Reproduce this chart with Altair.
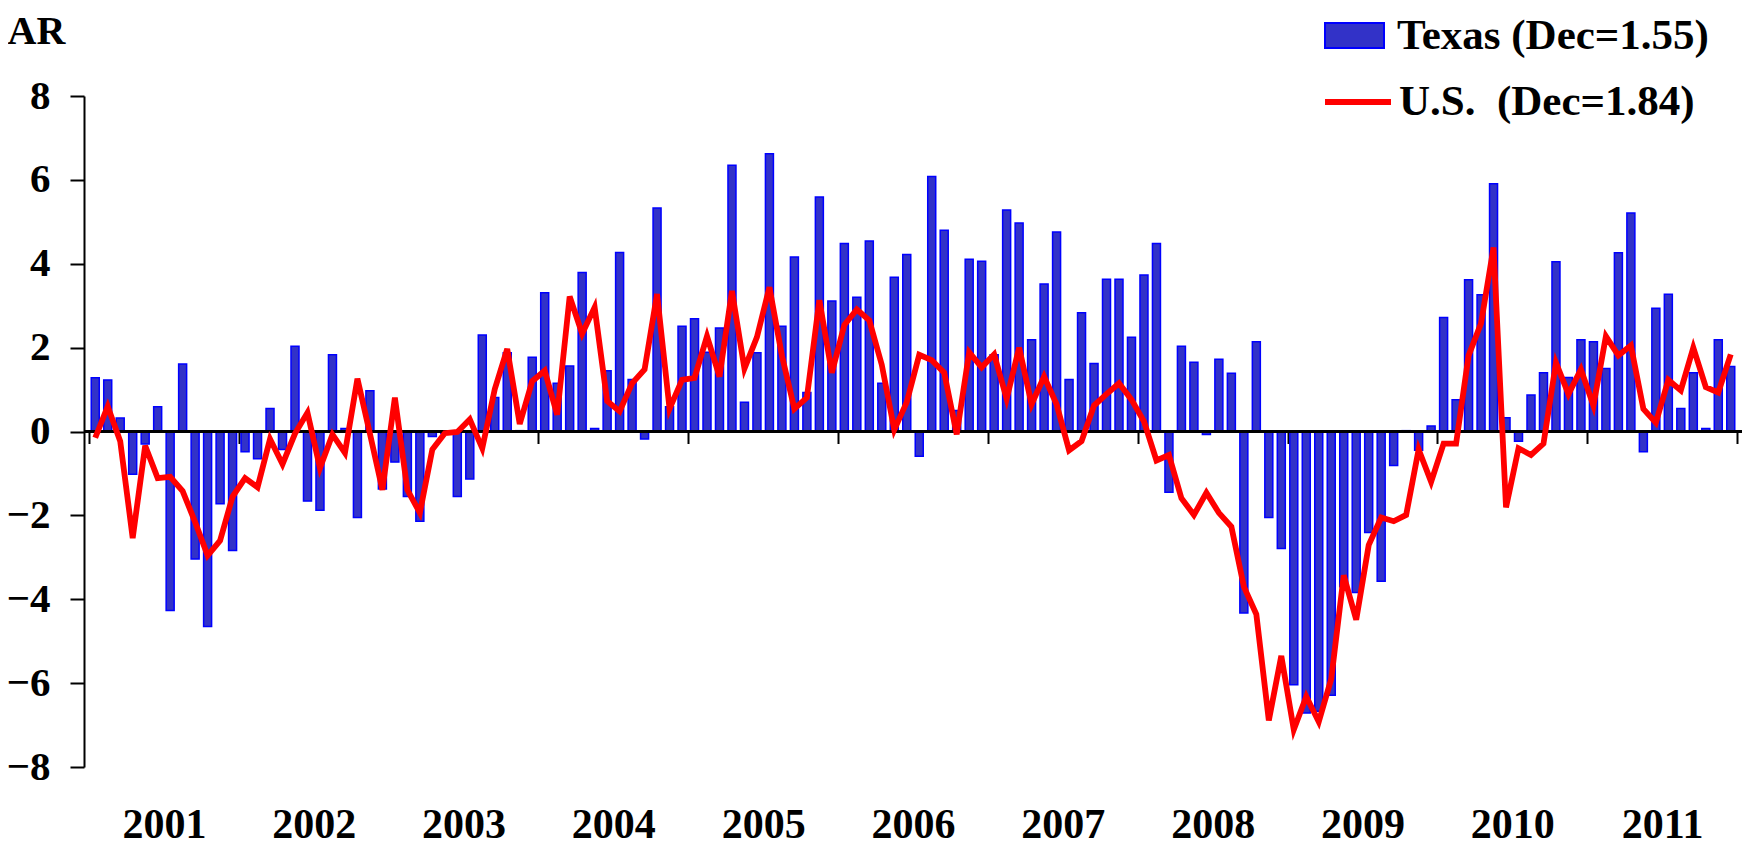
import altair as alt
import pandas as pd

# ---- data (monthly, Jan 2001 .. Dec 2011), % SAAR ----
years = list(range(2001, 2012))

texas = [
    1.28, 1.23, 0.32, -1.02, -0.30, 0.59, -4.27, 1.61, -3.04, -4.65, -1.72, -2.84,   # 2001
    -0.48, -0.65, 0.55, -0.43, 2.03, -1.66, -1.88, 1.83, 0.07, -2.05, 0.97, -1.37,   # 2002
    -0.73, -1.55, -2.14, -0.12, -0.05, -1.55, -1.13, 2.30, 0.81, 1.88, 0.02, 1.77,   # 2003
    3.31, 1.15, 1.56, 3.79, 0.07, 1.45, 4.27, 1.24, -0.18, 5.33, 0.59, 2.51,         # 2004
    2.69, 1.89, 2.47, 6.35, 0.70, 1.88, 6.62, 2.51, 4.16, 0.93, 5.59, 3.11,          # 2005
    4.48, 3.20, 4.54, 1.15, 3.68, 4.22, -0.59, 6.08, 4.80, 0.50, 4.11, 4.06,         # 2006
    1.83, 5.28, 4.97, 2.19, 3.52, 4.76, 1.24, 2.83, 1.62, 3.63, 3.63, 2.25,          # 2007
    3.73, 4.48, -1.45, 2.03, 1.65, -0.07, 1.72, 1.39, -4.33, 2.14, -2.05, -2.79,     # 2008
    -6.04, -6.71, -6.67, -6.29, -3.70, -3.84, -2.41, -3.57, -0.81, 0.02, -0.45, 0.13, # 2009
    2.72, 0.76, 3.62, 3.26, 5.91, 0.33, -0.23, 0.87, 1.40, 4.05, 1.29, 2.19,         # 2010
    2.14, 1.50, 4.26, 5.21, -0.48, 2.94, 3.27, 0.55, 1.40, 0.07, 2.19, 1.55,         # 2011
]

us = [
    -0.15, 0.60, -0.23, -2.54, -0.34, -1.11, -1.08, -1.42, -2.16, -2.96, -2.60, -1.55,  # 2001
    -1.11, -1.33, -0.18, -0.78, -0.05, 0.45, -0.87, -0.07, -0.51, 1.26, -0.05, -1.39,   # 2002
    0.81, -1.39, -1.94, -0.43, -0.04, -0.01, 0.29, -0.40, 1.01, 1.97, 0.18, 1.20,       # 2003
    1.45, 0.40, 3.22, 2.33, 2.96, 0.73, 0.48, 1.15, 1.48, 3.28, 0.54, 1.23,             # 2004
    1.28, 2.27, 1.31, 3.35, 1.50, 2.25, 3.44, 1.81, 0.54, 0.81, 3.13, 1.40,             # 2005
    2.54, 2.91, 2.65, 1.59, 0.04, 0.70, 1.83, 1.70, 1.40, -0.07, 1.89, 1.53,            # 2006
    1.84, 0.78, 2.00, 0.65, 1.31, 0.65, -0.45, -0.23, 0.62, 0.89, 1.15, 0.76,           # 2007
    0.24, -0.69, -0.56, -1.59, -1.99, -1.46, -1.94, -2.27, -3.70, -4.36, -6.89, -5.35,  # 2008
    -7.11, -6.32, -6.92, -5.90, -3.43, -4.49, -2.71, -2.05, -2.14, -1.99, -0.43, -1.20, # 2009
    -0.29, -0.29, 1.81, 2.58, 4.39, -1.81, -0.40, -0.56, -0.29, 1.64, 0.89, 1.48,       # 2010
    0.62, 2.27, 1.81, 2.05, 0.54, 0.21, 1.23, 0.98, 2.00, 1.06, 0.93, 1.84,             # 2011
]

texas_label = "Texas (Dec=1.55)"
us_label = "U.S.\u00a0 (Dec=1.84)"
y_title = "AR"
y_ticks = [-8, -6, -4, -2, 0, 2, 4, 6, 8]

n = len(texas)
df = pd.DataFrame({"m": list(range(n)), "texas": texas, "us": us})

W, H = 1658, 671
FONT = "Liberation Serif"

x_scale = alt.Scale(domain=[0, n], nice=False, zero=False)
y_scale = alt.Scale(domain=[-8, 8], nice=False)

y_axis = alt.Axis(
    values=y_ticks, grid=False, tickSize=14, tickWidth=2, tickColor="black",
    domainColor="black", domainWidth=2, labelFont=FONT, labelFontSize=41,
    labelFontWeight="bold", labelColor="black", labelPadding=20,
    title=y_title, titleAngle=0, titleX=-77, titleY=-53, titleAlign="left",
    titleBaseline="alphabetic", titleFont=FONT, titleFontSize=40,
    titleFontWeight="bold", titleColor="black",
)

tick_axis = alt.Axis(
    values=list(range(0, n + 1, 12)), orient="bottom", offset=-(H / 2),
    labels=False, domain=False, ticks=True, tickSize=12, tickWidth=2,
    tickColor="black", grid=False, title=None,
)

year_axis = alt.Axis(
    values=list(range(6, n, 12)), orient="bottom",
    labelExpr="toString(2001 + floor(datum.value / 12))",
    ticks=False, tickSize=0, domain=False, grid=False, title=None,
    labelFont=FONT, labelFontSize=42, labelFontWeight="bold", labelColor="black",
    labelPadding=37, labelOverlap=False,
)

base = alt.Chart(df).transform_calculate(
    xc="datum.m + 0.5",
    tx_name="'" + texas_label + "'",
    us_name="'" + us_label + "'",
)

bars = base.mark_bar(size=8, stroke="#0000FF", strokeWidth=1.5).encode(
    x=alt.X("xc:Q", scale=x_scale, axis=tick_axis),
    y=alt.Y("texas:Q", scale=y_scale, axis=y_axis),
    fill=alt.Fill(
        "tx_name:N",
        scale=alt.Scale(domain=[texas_label], range=["#3232C8"]),
        legend=alt.Legend(
            title=None, orient="none", legendX=1240, legendY=-91, padding=0,
            symbolType="M-1,-0.42H1V0.42H-1Z", symbolSize=3481,
            symbolStrokeColor="#0000FF", symbolStrokeWidth=2, symbolOpacity=1,
            labelFont=FONT, labelFontSize=43, labelFontWeight="bold",
            labelColor="black", labelOffset=12, labelLimit=0,
        ),
    ),
)

zero_rule = alt.Chart(df).mark_rule(color="black", strokeWidth=2.5).encode(
    y=alt.Y(datum=0, scale=y_scale, axis=y_axis)
)

line = base.mark_line(strokeWidth=5.8, strokeJoin="miter").encode(
    x=alt.X("xc:Q", scale=x_scale, axis=year_axis),
    y=alt.Y("us:Q", scale=y_scale, axis=y_axis),
    stroke=alt.Stroke(
        "us_name:N",
        scale=alt.Scale(domain=[us_label], range=["#FF0000"]),
        legend=alt.Legend(
            title=None, orient="none", legendX=1238, legendY=-30, padding=0,
            symbolType="stroke", symbolSize=4356, symbolStrokeWidth=6,
            labelFont=FONT, labelFontSize=43, labelFontWeight="bold",
            labelColor="black", labelOffset=5, labelLimit=0,
        ),
    ),
)

chart = (
    alt.layer(bars, zero_rule, line)
    .resolve_axis(x="independent")
    .resolve_legend(fill="independent", stroke="independent")
    .properties(
        width=W, height=H,
        autosize=alt.AutoSizeParams(type="none"),
        padding={"left": 76, "top": 88, "right": 2, "bottom": 81},
        background="white",
    )
    .configure_view(stroke=None)
)

chart.save("out.html", embed_options={"renderer": "svg", "actions": False})
